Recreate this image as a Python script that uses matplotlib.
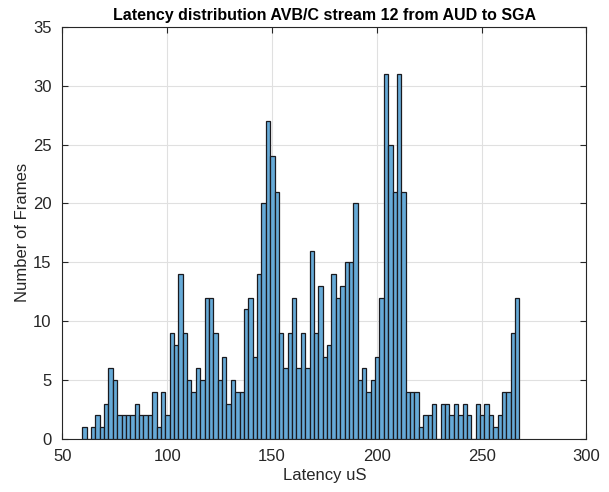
import numpy as np
import matplotlib
matplotlib.use("Agg")
import matplotlib.pyplot as plt

# histogram of 100 bins between min and max latency (uS)
lat_min = 59.4
lat_max = 268.0
counts = [1, 0, 1, 2, 1, 3, 6, 5, 2, 2,
          2, 2, 3, 2, 2, 2, 4, 1, 4, 2,
          9, 8, 14, 9, 5, 4, 6, 5, 12, 12,
          9, 5, 7, 3, 5, 4, 4, 11, 12, 7,
          14, 20, 27, 24, 21, 9, 6, 9, 12, 6,
          9, 6, 16, 9, 13, 7, 8, 14, 12, 13,
          15, 15, 20, 5, 6, 4, 5, 7, 12, 31,
          25, 21, 31, 21, 4, 4, 4, 1, 2, 2,
          3, 0, 3, 3, 2, 3, 2, 3, 2, 0,
          3, 2, 3, 2, 1, 2, 4, 4, 9, 12]
x_ticks = [50, 100, 150, 200, 250, 300]
y_ticks = [0, 5, 10, 15, 20, 25, 30, 35]

plt.rcParams['font.family'] = ['Liberation Sans', 'DejaVu Sans']

edges = np.linspace(lat_min, lat_max, len(counts) + 1)
widths = np.diff(edges)
dark = (0.15, 0.15, 0.15)

fig = plt.figure(figsize=(6.09, 4.92), dpi=100)
ax = fig.add_axes([0.1026, 0.1077, 0.8604, 0.838])

ax.bar(edges[:-1], counts, width=widths, align="edge",
       color=(0.4, 0.668, 0.845), edgecolor=(0.1, 0.1, 0.12), linewidth=0.9, zorder=3)

ax.set_xlim(50, 300)
ax.set_ylim(0, 35)
ax.set_xticks(x_ticks)
ax.set_yticks(y_ticks)
ax.grid(True, color=(0.88, 0.88, 0.88), linewidth=0.8, zorder=0)
ax.tick_params(direction="in", top=True, right=True, labelsize=12,
               colors=dark, length=4)
ax.tick_params(axis="x", pad=7)
ax.tick_params(axis="y", pad=8)
for s in ax.spines.values():
    s.set_color(dark)
    s.set_linewidth(0.8)

ax.set_xlabel("Latency uS", fontsize=12, color=dark, labelpad=3)
ax.set_ylabel("Number of Frames", fontsize=12, color=dark, labelpad=2)
ax.set_title("Latency distribution AVB/C stream 12 from AUD to SGA",
             fontsize=11.5, fontweight="bold", pad=5)

fig.savefig("out.png", dpi=100)
